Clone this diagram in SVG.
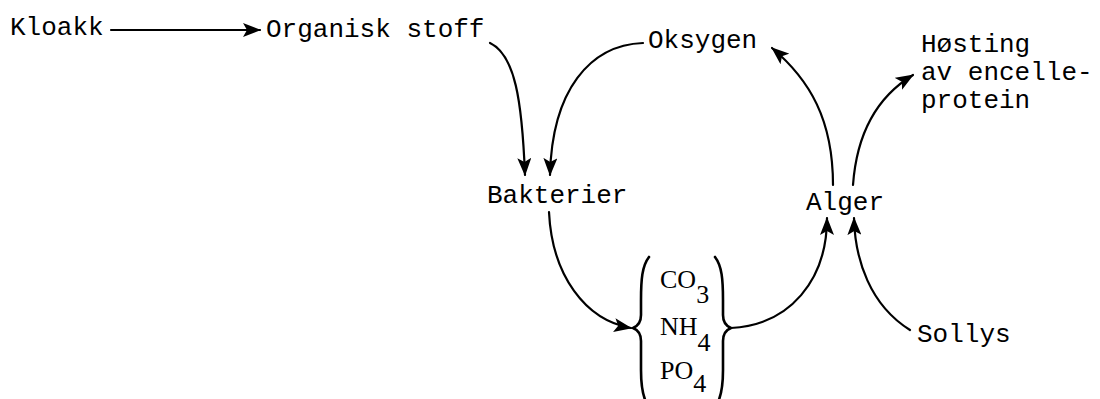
<svg xmlns="http://www.w3.org/2000/svg" width="1100" height="399" viewBox="0 0 1100 399">
<defs>
<style>
.t{font-family:"Liberation Mono","DejaVu Sans Mono",monospace;font-size:26px;fill:#000}
.f{font-family:"Liberation Serif","DejaVu Serif",serif;font-size:26px;fill:#000}
.c{fill:none;stroke:#000;stroke-width:2.2;stroke-linecap:round}
.b{fill:none;stroke:#000;stroke-width:2.6;stroke-linecap:round;stroke-linejoin:round}
</style>
<marker id="ah" viewBox="0 0 18 14" refX="17" refY="7" markerWidth="18" markerHeight="14" orient="auto" markerUnits="userSpaceOnUse">
<path d="M0,0 L18,7 L0,14 L4,7 z" fill="#000"/>
</marker>
</defs>
<rect width="1100" height="399" fill="#fff"/>
<g id="kloakk"><text class="t" x="10" y="35">Kloakk</text></g>
<g id="organisk"><text class="t" x="266" y="37">Organisk stoff</text></g>
<g id="oksygen"><text class="t" x="648" y="48">Oksygen</text></g>
<g id="hosting"><text class="t" x="921" y="52">Høsting</text><text class="t" x="921" y="80">av encelle-</text><text class="t" x="921" y="108">protein</text></g>
<g id="bakterier"><text class="t" x="487" y="203">Bakterier</text></g>
<g id="alger"><text class="t" x="806" y="210">Alger</text></g>
<g id="sollys"><text class="t" x="917" y="342">Sollys</text></g>
<g id="naering">
<path class="b" d="M649 257 C642 266 641 280 641 300 L641 315 C641 322 638 326 633 328 C638 330 641 334 641 341 L641 370 C641 385 642 395 647 404"/>
<path class="b" d="M715 257 C722 266 723 280 723 300 L723 315 C723 322 726 326 731 328 C726 330 723 334 723 341 L723 370 C723 385 722 395 717 404"/>
<text class="f" x="660" y="288">CO<tspan dy="15">3</tspan></text>
<text class="f" x="660" y="335">NH<tspan dy="16">4</tspan></text>
<text class="f" x="660" y="379">PO<tspan dy="13">4</tspan></text>
</g>
<g id="connectors">
<path class="c" d="M111 30 L260 30" marker-end="url(#ah)"/>
<path class="c" d="M490 43 C515 55 522 100 525 175" marker-end="url(#ah)"/>
<path class="c" d="M643 43 C590 45 552 90 550 175" marker-end="url(#ah)"/>
<path class="c" d="M549 212 C552 275 585 320 631 328" marker-end="url(#ah)"/>
<path class="c" d="M731 328 C790 325 827 280 827 218" marker-end="url(#ah)"/>
<path class="c" d="M910 330 C870 305 855 260 854 218" marker-end="url(#ah)"/>
<path class="c" d="M833 185 C833 120 810 80 772 48" marker-end="url(#ah)"/>
<path class="c" d="M853 185 C857 130 880 95 913 75" marker-end="url(#ah)"/>
</g>
</svg>
